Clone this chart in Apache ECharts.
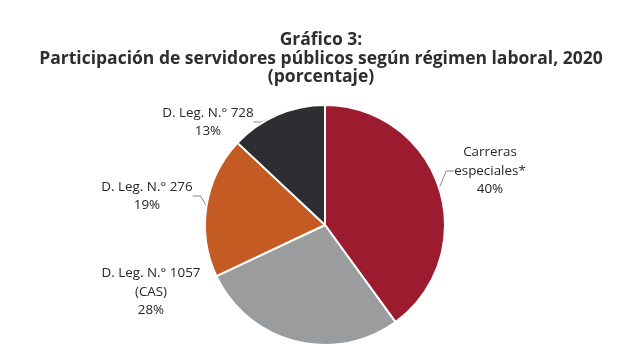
<!DOCTYPE html>
<html>
<head>
<meta charset="utf-8">
<script src="https://cdn.jsdelivr.net/npm/echarts@6/dist/echarts.min.js"></script>
<style>
html,body{margin:0;padding:0;background:#fff;}
#chart{width:642px;height:363px;}
</style>
</head>
<body>
<div id="chart"></div>
<script>
const categories = ["Carreras\nespeciales*", "D. Leg. N.° 1057\n(CAS)", "D. Leg. N.° 276", "D. Leg. N.° 728"];
const values = [40, 28, 19, 13];
const colors = ["#9C1B2F", "#9B9C9E", "#C45B23", "#2C2E31"];
const titleLines = ["Gráfico 3:", "Participación de servidores públicos según régimen laboral, 2020", "(porcentaje)"];

// label anchor positions (pixels), index-aligned with categories
const labelPos = [[490, 171], [151, 292], [147, 196], [208, 122]];

const chart = echarts.init(document.getElementById('chart'));
chart.setOption({
  backgroundColor: '#fff',
  animation: false,
  title: {
    text: titleLines.join('\n'),
    left: 'center',
    top: 26,
    textStyle: {
      fontFamily: 'Open Sans',
      fontWeight: 'bold',
      fontSize: 17.5,
      lineHeight: 18.5,
      color: '#2e2e2e'
    }
  },
  series: [{
    type: 'pie',
    center: [325, 225],
    radius: [0, 120],
    startAngle: 90,
    clockwise: true,
    data: categories.map((c, i) => ({
      name: c,
      value: values[i],
      itemStyle: { color: colors[i] },
      labelLine: { show: i !== 1 }
    })),
    itemStyle: { borderColor: '#fff', borderWidth: 2 },
    label: {
      show: true,
      position: 'outside',
      formatter: p => p.name + '\n' + p.value + '%',
      fontFamily: 'Open Sans',
      fontSize: 13.4,
      lineHeight: 18.5,
      color: '#262626',
      align: 'center'
    },
    labelLine: {
      show: true,
      length: 8,
      length2: 8,
      lineStyle: { color: '#888', width: 1 }
    },
    labelLayout: function (params) {
      const p = labelPos[params.dataIndex];
      return { x: p[0], y: p[1], align: 'center', verticalAlign: 'middle' };
    }
  }]
});
</script>
</body>
</html>
